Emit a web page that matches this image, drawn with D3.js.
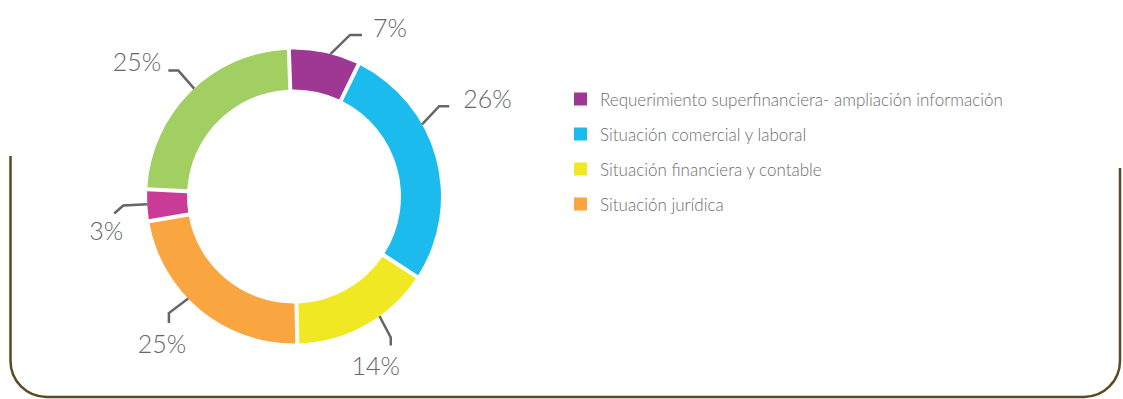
<!DOCTYPE html>
<html>
<head>
<meta charset="utf-8">
<script src="https://cdn.jsdelivr.net/npm/d3@7"></script>
<style>
  body { margin: 0; background: #fff; }
  svg { display: block; }
</style>
</head>
<body>
<div id="chart"></div>
<script>
// slice shares as drawn, clockwise from the top
const shares = [7.6, 27.2, 15.4, 22.8, 3.2, 23.8];
const pctLabels = ["7%", "26%", "14%", "25%", "3%", "25%"];
const colors = ["#9e3892", "#1bbbee", "#f0e822", "#f9a641", "#c83b96", "#a1cf62"];
const legendNames = [
    "Requerimiento superfinanciera- ampliación información",
    "Situación comercial y laboral",
    "Situación financiera y contable",
    "Situación jurídica"
];

function drawDonut() {
    const width = 1123;
    const height = 399;
    const cx = 294, cy = 196.5;
    const outerR = 147, innerR = 107;
    const rad = Math.PI / 180;

    const svg = d3.select("#chart")
        .append("svg")
        .attr("width", width)
        .attr("height", height);

    // frame
    svg.append("path")
        .attr("d", "M10.5,156 L10.5,361 A36,36 0 0 0 46.5,397 L1084,397 A36,36 0 0 0 1120,361 L1120,168")
        .attr("fill", "none")
        .attr("stroke", "#5c4a22")
        .attr("stroke-width", 2.5);

    const start = -2 * rad;
    const pie = d3.pie()
        .sort(null)
        .startAngle(start)
        .endAngle(start + 2 * Math.PI)
        .padAngle(0.022);

    const arc = d3.arc()
        .innerRadius(innerR)
        .outerRadius(outerR);

    const g = svg.append("g").attr("transform", `translate(${cx},${cy})`);
    const arcs = pie(shares);

    g.selectAll("path.slice")
        .data(arcs)
        .join("path")
        .attr("class", "slice")
        .attr("d", arc)
        .attr("fill", (d, i) => colors[i]);

    // leader lines: angle nudges (deg) for start and elbow, tail segment, text offset + anchor
    const nudgeStart = [2.3, -14, -6.5, 6.5, 0.4, 1.8];
    const nudgeElbow = [7.1, -16.5, -5.4, 7.5, 0.4, 2];
    const tails = [[12, 0], [10, 0], [0, 8], [0, 10], [-9, 8], [-10, 0]];
    const textOff = [[11, 2, "start"], [14, 2, "start"], [-15, 30, "middle"], [-7, 30, "middle"], [9, 27, "end"], [-7, 0, "end"]];

    arcs.forEach(function (d, i) {
        const mid = (d.startAngle + d.endAngle) / 2;
        const a0 = mid + nudgeStart[i] * rad;
        const a1 = mid + nudgeElbow[i] * rad;
        const p0 = [Math.sin(a0) * outerR, -Math.cos(a0) * outerR];
        const p1 = [Math.sin(a1) * 171, -Math.cos(a1) * 171];
        const p2 = [p1[0] + tails[i][0], p1[1] + tails[i][1]];
        g.append("path")
            .attr("d", d3.line()([p0, p1, p2]))
            .attr("fill", "none")
            .attr("stroke", "#666")
            .attr("stroke-width", 2.5);
        g.append("text")
            .attr("x", p2[0] + textOff[i][0])
            .attr("y", p2[1] + textOff[i][1])
            .attr("text-anchor", textOff[i][2])
            .attr("font-family", "Lato, sans-serif")
            .attr("font-weight", 300)
            .attr("font-size", 25)
            .attr("fill", "#666")
            .text(pctLabels[i]);
    });

    // legend
    const legend = svg.append("g").attr("transform", "translate(574,0)");
    const rowY = d3.scalePoint().domain(d3.range(legendNames.length)).range([99, 204]);

    legend.selectAll("rect")
        .data(legendNames)
        .join("rect")
        .attr("x", 0)
        .attr("y", (d, i) => rowY(i) - 6.5)
        .attr("width", 13)
        .attr("height", 13)
        .attr("fill", (d, i) => colors[i]);

    legend.selectAll("text")
        .data(legendNames)
        .join("text")
        .attr("x", 26)
        .attr("y", (d, i) => rowY(i) + 6.5)
        .attr("font-family", "Lato, sans-serif")
        .attr("font-weight", 300)
        .attr("font-size", 17)
        .attr("fill", "#6d6d6d")
        .text(d => d);
}
drawDonut();
</script>
</body>
</html>
